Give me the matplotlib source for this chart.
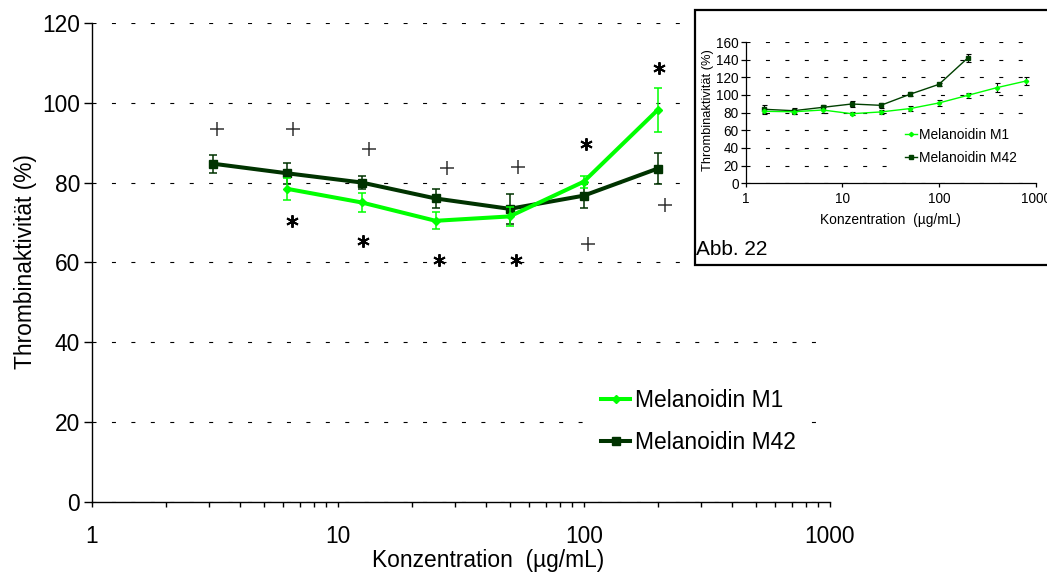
import matplotlib
matplotlib.use('Agg')
import matplotlib.pyplot as plt
from matplotlib.patches import Rectangle
from matplotlib.lines import Line2D
from matplotlib.ticker import FixedLocator, LogLocator, NullFormatter, NullLocator

plt.rcParams['font.family'] = ['Liberation Sans', 'DejaVu Sans']

W, H = 1047, 577
GREEN = '#00ff00'
DARK = '#003300'

# main chart: thrombin activity vs. melanoidin concentration
conc_m1 = [6.25, 12.5, 25, 50, 100, 200]
act_m1 = [78.4, 75.0, 70.4, 71.5, 80.2, 98.2]
err_m1 = [2.8, 2.3, 2.1, 2.4, 1.5, 5.5]

conc_m42 = [3.125, 6.25, 12.5, 25, 50, 100, 200]
act_m42 = [84.7, 82.3, 80.0, 76.0, 73.4, 76.7, 83.5]
err_m42 = [2.3, 2.6, 1.7, 2.3, 3.7, 3.0, 4.0]

# significance symbols
plus_x = [3.22, 6.6, 13.4, 27.7, 54.2, 104.4, 214]
plus_y = [93.3, 93.3, 88.5, 83.6, 84.0, 64.5, 74.3]
star_x = [6.53, 12.7, 25.9, 53.3, 102.5, 202]
star_y = [70.4, 65.4, 60.6, 60.6, 89.6, 108.8]

# small chart (Abb. 22)
ins_conc_m1 = [1.5625, 3.125, 6.25, 12.5, 25, 50, 100, 200, 400, 800]
ins_act_m1 = [81.5, 81.0, 83.0, 78.8, 80.8, 84.6, 91.0, 99.7, 108.4, 115.9]
ins_err_m1 = [3.0, 2.5, 3.5, 2.0, 2.0, 2.5, 3.5, 3.0, 5.0, 4.3]
ins_conc_m42 = [1.5625, 3.125, 6.25, 12.5, 25, 50, 100, 200]
ins_act_m42 = [83.8, 82.2, 86.0, 89.8, 88.3, 100.8, 112.1, 142.3]
ins_err_m42 = [4.5, 3.5, 3.0, 3.5, 3.0, 2.5, 2.0, 4.4]

main_yticks = [0, 20, 40, 60, 80, 100, 120]
ins_yticks = [0, 20, 40, 60, 80, 100, 120, 140, 160]
xticks = [1, 10, 100, 1000]
xticklabels = ['1', '10', '100', '1000']
series_labels = ['Melanoidin M1', 'Melanoidin M42']


def fx(px):
    return px / W


def fy(py):
    return 1 - py / H


fig = plt.figure(figsize=(W / 100, H / 100), dpi=100)

# ---- main axes ----
ax = fig.add_axes([fx(91.7), fy(501.7), (829.7 - 91.7) / W, (501.7 - 22.9) / H])
ax.set_xscale('log')
ax.set_xlim(1, 1000)
ax.set_ylim(0, 120)
ax.set_yticks(main_yticks)
ax.xaxis.set_major_locator(FixedLocator(xticks))
ax.set_xticklabels(xticklabels)
ax.xaxis.set_minor_locator(LogLocator(base=10, subs=range(2, 10)))
ax.xaxis.set_minor_formatter(NullFormatter())
ax.grid(axis='y', color='black', lw=0.8, linestyle=(0, (3.6, 13.9)))
ax.set_axisbelow(True)
for s in ['top', 'right']:
    ax.spines[s].set_visible(False)
for s in ['left', 'bottom']:
    ax.spines[s].set_linewidth(1.0)
ax.tick_params(axis='y', direction='out', length=5.5, width=1.0, pad=3, labelsize=16.4)
ax.tick_params(axis='x', which='both', direction='out', length=3.6, width=1.0, pad=13,
               labelsize=16.4)

ax.errorbar(conc_m42, act_m42, yerr=err_m42, color=DARK, lw=2.9, marker='s', ms=6,
            ecolor=DARK, elinewidth=1.1, capsize=2.6, capthick=1.1, zorder=3)
ax.errorbar(conc_m1, act_m1, yerr=err_m1, color=GREEN, lw=2.9, marker='D', ms=4,
            ecolor=GREEN, elinewidth=1.1, capsize=2.6, capthick=1.1, zorder=4)

ax.plot(plus_x, plus_y, ls='none', marker='+', ms=10, mew=1.1, color='#333333', zorder=5)
ax.plot(star_x, star_y, ls='none', marker=(6, 2, 0), ms=9, mew=1.4, color='black', zorder=5)

handles = [Line2D([], [], color=GREEN, lw=2.9, marker='D', ms=4),
           Line2D([], [], color=DARK, lw=2.9, marker='s', ms=6)]
ax.legend(handles, series_labels, loc='center left',
          bbox_to_anchor=(fx(598), fy(421.5)), bbox_transform=fig.transFigure,
          frameon=True, fancybox=False, framealpha=1, edgecolor='none', facecolor='white',
          fontsize=16.4, handlelength=1.27, handletextpad=0.2, labelspacing=0.85,
          borderpad=0.15, borderaxespad=0)

fig.text(fx(26), fy(262), 'Thrombinaktivität (%)', rotation=90, ha='center', va='center',
         fontsize=16.4)
fig.text(fx(488.5), fy(560), 'Konzentration  (µg/mL)', ha='center', va='center', fontsize=16.4)

# ---- framed small chart ----
fig.add_artist(Rectangle((fx(695), fy(265)), (1070 - 695) / W, (265 - 9.8) / H,
                         transform=fig.transFigure, facecolor='white', edgecolor='black',
                         lw=1.6, zorder=2))

iax = fig.add_axes([fx(745.7), fy(183.3), (1035.7 - 745.7) / W, (183.3 - 42) / H], zorder=3)
iax.set_facecolor('none')
iax.set_xscale('log')
iax.set_xlim(1, 1000)
iax.set_ylim(0, 160)
iax.set_yticks(ins_yticks)
iax.xaxis.set_major_locator(FixedLocator(xticks))
iax.set_xticklabels(xticklabels)
iax.xaxis.set_minor_locator(NullLocator())
iax.grid(axis='y', color='black', lw=0.8, linestyle=(0, (3.6, 13.9)))
iax.set_axisbelow(True)
for s in ['top', 'right']:
    iax.spines[s].set_visible(False)
for s in ['left', 'bottom']:
    iax.spines[s].set_linewidth(0.9)
iax.tick_params(axis='y', direction='out', length=3.6, width=0.9, pad=1.5, labelsize=9.8)
iax.tick_params(axis='x', direction='out', length=3, width=0.9, pad=3, labelsize=9.8)

iax.errorbar(ins_conc_m42, ins_act_m42, yerr=ins_err_m42, color='#004000', lw=1.0,
             marker='s', ms=3, ecolor='black', elinewidth=0.8, capsize=1.8, capthick=0.8)
iax.errorbar(ins_conc_m1, ins_act_m1, yerr=ins_err_m1, color=GREEN, lw=1.0,
             marker='D', ms=2.2, ecolor='black', elinewidth=0.8, capsize=1.8, capthick=0.8)

ins_handles = [Line2D([], [], color=GREEN, lw=1.0, marker='D', ms=2.2),
               Line2D([], [], color='#004000', lw=1.0, marker='s', ms=3)]
iax.legend(ins_handles, series_labels, loc='center left',
           bbox_to_anchor=(fx(893), fy(146.7)), bbox_transform=fig.transFigure,
           frameon=True, fancybox=False, framealpha=1, edgecolor='none', facecolor='white',
           fontsize=9.9, handlelength=0.84, handletextpad=0.17, labelspacing=0.66,
           borderpad=0.9, borderaxespad=0)

fig.text(fx(708), fy(110), 'Thrombinaktivität (%)', rotation=90, ha='center', va='center',
         fontsize=9.3, zorder=5)
fig.text(fx(890), fy(220), 'Konzentration  (µg/mL)', ha='center', va='center',
         fontsize=9.9, zorder=5)
fig.text(fx(696), fy(255), 'Abb. 22', fontsize=15, va='baseline', ha='left', zorder=5)

fig.savefig('out.png', dpi=100)
